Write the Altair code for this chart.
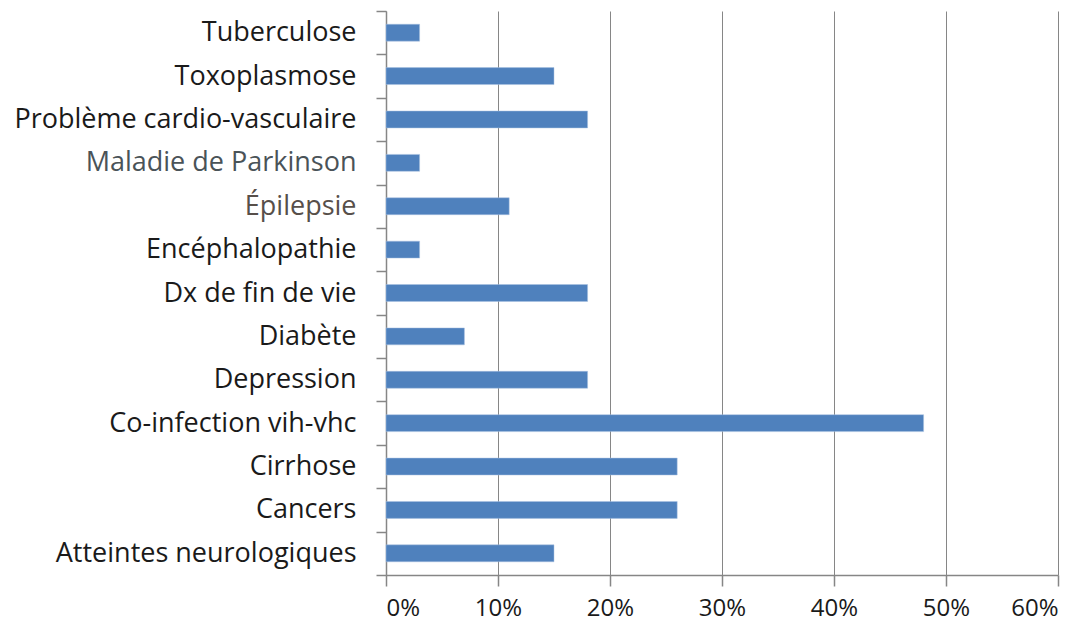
import altair as alt
import pandas as pd

categories = [
    "Tuberculose",
    "Toxoplasmose",
    "Problème cardio-vasculaire",
    "Maladie de Parkinson",
    "Épilepsie",
    "Encéphalopathie",
    "Dx de fin de vie",
    "Diabète",
    "Depression",
    "Co-infection vih-vhc",
    "Cirrhose",
    "Cancers",
    "Atteintes neurologiques",
]
values = [0.03, 0.15, 0.18, 0.03, 0.11, 0.03, 0.18, 0.07, 0.18, 0.48, 0.26, 0.26, 0.15]
x_ticks = [0, 0.1, 0.2, 0.3, 0.4, 0.5, 0.6]

df = pd.DataFrame({"cat": categories, "val": values})

label_color = alt.expr(
    "datum.value == 'Maladie de Parkinson' ? '#4a5358' : "
    "(datum.value == 'Épilepsie' ? '#574f4a' : '#1a1a1a')"
)

chart = alt.Chart(df).mark_bar(
    color="#4f81bd", stroke="#a9c1e0", strokeWidth=0.5, height={"band": 0.39}
).encode(
    x=alt.X(
        "val:Q",
        scale=alt.Scale(domain=[0, 0.6], nice=False),
        axis=alt.Axis(
            values=x_ticks,
            format=".0%",
            title=None,
            grid=True,
            gridColor="#868686",
            gridWidth=1,
            domainColor="#868686",
            domainWidth=1.5,
            tickColor="#868686",
            tickSize=11,
            tickWidth=1.5,
            labelFont="Open Sans",
            labelFontSize=24,
            labelColor="#1a1a1a",
            labelPadding=10,
        ),
    ),
    y=alt.Y(
        "cat:N",
        sort=categories,
        scale=alt.Scale(paddingInner=0, paddingOuter=0),
        axis=alt.Axis(
            title=None,
            domainColor="#868686",
            domainWidth=1.5,
            tickColor="#868686",
            tickWidth=1.5,
            tickSize=10,
            tickBand="extent",
            labelFont="Open Sans",
            labelFontSize=27,
            labelColor=label_color,
            labelPadding=20,
            labelLimit=400,
        ),
    ),
).properties(
    width=672,
    height=564,
    autosize=alt.AutoSizeParams(type="none"),
    padding={"left": 378, "top": 3, "right": 20, "bottom": 50},
).configure_view(stroke=None)

chart.save("out.html", embed_options={"renderer": "svg", "actions": False})
